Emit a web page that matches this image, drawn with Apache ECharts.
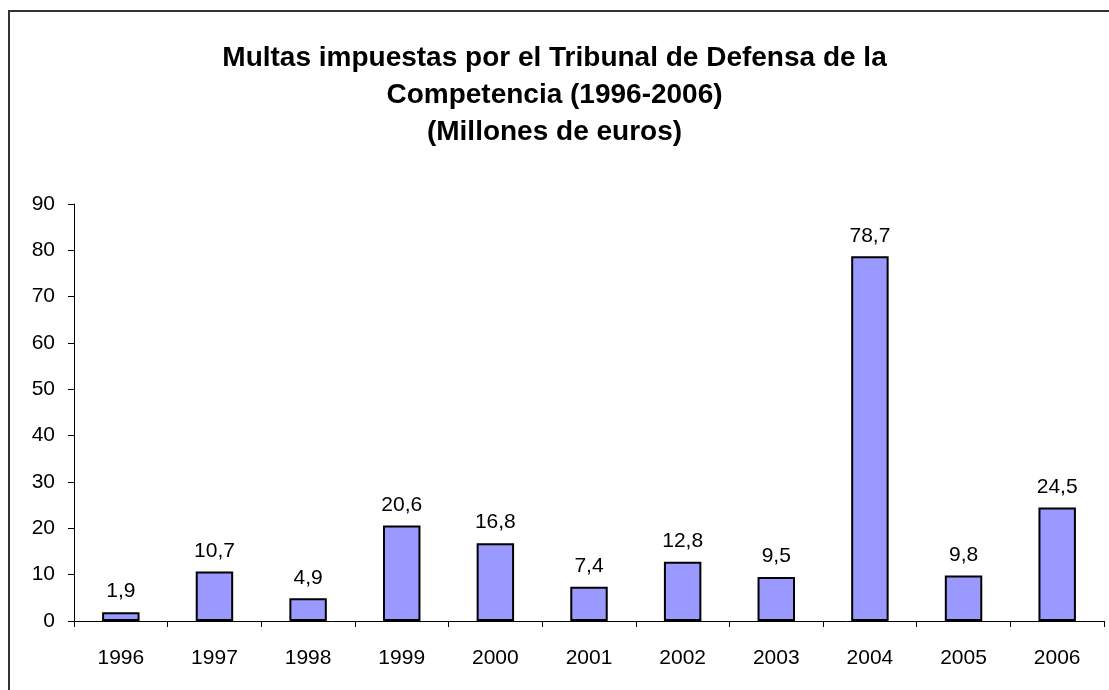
<!DOCTYPE html>
<html>
<head>
<meta charset="utf-8">
<script src="https://cdn.jsdelivr.net/npm/echarts@6/dist/echarts.min.js"></script>
<style>
  html, body { margin: 0; padding: 0; background: #fff; }
  #chart { width: 1109px; height: 690px; }
</style>
</head>
<body>
<div id="chart"></div>
<script>
// datos del gráfico
const years = ['1996', '1997', '1998', '1999', '2000', '2001', '2002', '2003', '2004', '2005', '2006'];
const fines = [1.9, 10.7, 4.9, 20.6, 16.8, 7.4, 12.8, 9.5, 78.7, 9.8, 24.5];
const yTicks = { min: 0, max: 90, interval: 10 };
const titleText = 'Multas impuestas por el Tribunal de Defensa de la\nCompetencia (1996-2006)\n(Millones de euros)';

const chart = echarts.init(document.getElementById('chart'));
const font = '"Liberation Sans", Arial, sans-serif';

chart.setOption({
  animation: false,
  title: {
    text: titleText,
    left: 'center',
    top: 35,
    textStyle: { fontFamily: font, fontSize: 28, fontWeight: 'bold', color: '#000', lineHeight: 37 }
  },
  // marco exterior del gráfico
  graphic: [{
    type: 'rect',
    shape: { x: 9, y: 11, width: 1300, height: 900 },
    style: { fill: 'none', stroke: '#333', lineWidth: 2 },
    silent: true
  }],
  grid: { left: 74, right: 5, top: 204, bottom: 69 },
  xAxis: {
    type: 'category',
    data: years,
    axisLine: { lineStyle: { color: '#000', width: 1 } },
    axisTick: { show: true, length: 6, lineStyle: { color: '#000' } },
    axisLabel: { fontFamily: font, fontSize: 21, color: '#000', margin: 27 }
  },
  yAxis: {
    type: 'value',
    min: yTicks.min,
    max: yTicks.max,
    interval: yTicks.interval,
    axisLine: { show: true, lineStyle: { color: '#000', width: 1 } },
    axisTick: { show: true, length: 6, lineStyle: { color: '#000' } },
    splitLine: { show: false },
    axisLabel: { fontFamily: font, fontSize: 21, color: '#000', margin: 19 }
  },
  series: [{
    type: 'bar',
    data: fines,
    barWidth: '40%',
    itemStyle: { color: '#9999ff', borderColor: '#000', borderWidth: 2 },
    label: {
      show: true,
      position: 'top',
      distance: 10,
      fontFamily: font,
      fontSize: 21,
      color: '#000',
      formatter: (p) => p.value.toFixed(1).replace('.', ',')
    }
  }]
});
</script>
</body>
</html>
